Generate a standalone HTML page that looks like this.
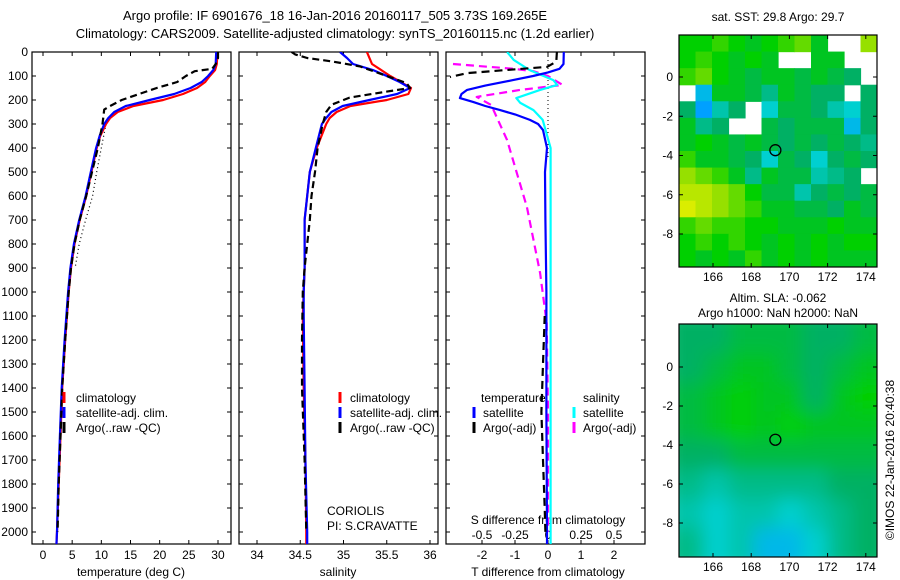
<!DOCTYPE html>
<html><head><meta charset="utf-8">
<style>
html,body{margin:0;padding:0;background:#fff;}
svg{display:block;font-family:"Liberation Sans",sans-serif;}
text{font-size:12px;fill:#000;}
</style></head>
<body>
<svg id="fig" width="900" height="580" viewBox="0 0 900 580" xmlns="http://www.w3.org/2000/svg">
<defs>
<filter id="blur2" x="-10%" y="-10%" width="120%" height="120%"><feGaussianBlur stdDeviation="9"/></filter>
<clipPath id="clipP1"><rect x="32" y="52" width="199" height="492"/></clipPath>
<clipPath id="clipP2"><rect x="239" y="52" width="199" height="492"/></clipPath>
<clipPath id="clipP3"><rect x="446" y="52" width="199" height="492"/></clipPath>
<clipPath id="clipM1"><rect x="679" y="35" width="198" height="232"/></clipPath>
<clipPath id="clipM2"><rect x="679" y="324" width="198" height="233"/></clipPath>
</defs>
<text x="335" y="20" text-anchor="middle" style="font-size:13px">Argo profile: IF 6901676_18 16-Jan-2016 20160117_505 3.73S 169.265E</text>
<text x="335" y="38" text-anchor="middle" style="font-size:13px">Climatology: CARS2009. Satellite-adjusted climatology: synTS_20160115.nc (1.2d earlier)</text>
<text x="778" y="21" text-anchor="middle">sat. SST: 29.8 Argo: 29.7</text>
<text x="778" y="302" text-anchor="middle">Altim. SLA: -0.062</text>
<text x="778" y="317" text-anchor="middle">Argo h1000: NaN h2000: NaN</text>
<text transform="translate(894,460) rotate(-90)" text-anchor="middle">©IMOS 22-Jan-2016 20:40:38</text>
<g id="layer"></g>
</svg>
<script>
// ---------- data ----------
const depthTicks = [0,100,200,300,400,500,600,700,800,900,1000,1100,1200,1300,1400,1500,1600,1700,1800,1900,2000];
const tempTicks = [0,5,10,15,20,25,30];
const salTicks = [34,34.5,35,35.5,36];
const salTickLabels = ["34","34.5","35","35.5","36"];
const tdiffTicks = [-2,-1,0,1,2];
const sdiffTicks = [-0.5,-0.25,0,0.25,0.5];
const sdiffTickLabels = ["-0.5","-0.25","0","0.25","0.5"];

const tClimDepth = [0,50,75,100,125,150,175,200,225,250,275,300,350,400,500,600,700,800,900,1000,1200,1400,1600,1800,2000,2055];
const tClim      = [29.9,29.8,29.5,28.6,27.8,26.4,24,20.6,15.5,12.8,11.5,10.8,9.8,9.2,8.3,7.4,6.3,5.4,4.8,4.4,3.8,3.3,3.0,2.7,2.4,2.3];
const tSat       = [29.7,29.6,29.2,28.3,27.2,25.3,22.5,18.3,14.2,12.2,11.2,10.5,9.7,9.1,8.2,7.3,6.2,5.3,4.7,4.3,3.7,3.2,2.9,2.6,2.4,2.3];
const tArgoDepth = [0,25,50,70,80,100,125,150,175,200,225,240,300,400,500,600,700,800,900,1000,1200,1400,1600,1800,2000];
const tArgo      = [30.0,30.0,29.6,29.0,26.0,24.5,23.0,19.5,16.5,13.5,11.5,10.5,10.2,9.4,8.4,7.4,6.3,5.4,4.8,4.4,3.8,3.3,3.0,2.7,2.5];
const tRawDepth  = [300,400,500,600,700,800,900];
const tRaw       = [10.8,10.0,9.2,8.5,7.3,6.2,5.5];

const sClimDepth = [0,50,100,150,175,200,225,250,275,300,400,500,600,700,800,900,1000,1100,1400,1700,2000,2055];
const sClim      = [35.27,35.33,35.54,35.78,35.75,35.5,35.08,34.92,34.84,34.8,34.69,34.61,34.58,34.55,34.55,34.55,34.54,34.53,34.54,34.56,34.57,34.57];
const sSatDepth  = [0,25,50,75,100,125,150,175,200,225,250,275,300,400,500,600,700,800,900,1000,1100,1400,1700,2000,2055];
const sSat       = [34.96,35.04,35.11,35.34,35.5,35.65,35.77,35.62,35.3,34.99,34.86,34.8,34.75,34.68,34.61,34.58,34.55,34.55,34.55,34.54,34.54,34.55,34.56,34.58,34.58];
const sArgoDepth = [0,10,25,40,60,100,130,150,165,190,220,250,300,400,500,600,700,800,900,1000,1200,1400,1700,2000];
const sArgo      = [34.4,34.44,34.58,34.88,35.19,35.5,35.73,35.77,35.5,35.07,34.86,34.8,34.76,34.7,34.67,34.63,34.61,34.58,34.55,34.53,34.52,34.52,34.55,34.57];

const dTSatDepth = [0,50,70,85,100,117,140,158,175,192,208,225,242,260,283,300,325,400,500,700,1000,1500,2000,2055];
const dTSat      = [0.48,0.47,0.35,0,-0.45,-1.06,-1.9,-2.45,-2.62,-2.67,-2.27,-1.9,-1.45,-1.0,-0.55,-0.3,-0.15,-0.03,-0.09,-0.08,-0.05,-0.05,-0.03,-0.03];
const dSSatDepth = [0,33,75,117,137,158,192,212,242,283,400,700,1000,1500,2000,2055];
const dSSat      = [-0.31,-0.26,-0.14,0.04,0.07,-0.06,-0.24,-0.21,-0.11,-0.04,0.02,0.02,0.02,0.02,0.02,0.02];
const dTArgoDepthA = [0,40,62,75,88,104];
const dTArgoA      = [0.27,0.25,-0.03,-1.25,-2.45,-2.97];
const dTArgoDepthB = [1100,1300,1500,1700,1900,2000];
const dTArgoB      = [-0.1,-0.15,-0.2,-0.15,-0.1,-0.08];
const dSArgoDepth = [50,70,80,100,137,158,187,221,367,646,921,1129,1500,2000];
const dSArgo      = [-0.72,-0.26,-0.11,0.0,0.11,-0.21,-0.54,-0.43,-0.31,-0.16,-0.06,-0.01,0.0,0.0];

const mapLonTicks = [166,168,170,172,174];
const mapLatTicks = [0,-2,-4,-6,-8];
const argoLon = 169.265, argoLat = -3.73;
const N = null;
const sstGrid = [
 [.65,.65,.7,.65,.6,.65,.7,.75,.6,N,N,.8],
 [.65,.7,.65,.6,.65,.6,N,N,.6,.6,N,N],
 [.7,.75,.65,.6,.55,.6,.6,.55,.6,.55,.5,N],
 [N,.3,.6,.6,.55,.45,.6,.55,.5,.5,N,.5],
 [.5,.25,.4,.5,N,.35,.55,.55,.5,.4,.35,.5],
 [.6,.45,.5,N,N,.55,.5,.55,.55,.55,.3,.5],
 [.6,.65,.6,.55,.6,.55,.5,.55,.5,.55,.5,.45],
 [.7,.6,.6,.55,.5,.35,.55,.5,.35,.5,.55,.5],
 [.8,.75,.7,.6,.45,.6,.55,.55,.4,.45,.5,N],
 [.85,.85,.8,.75,.65,.55,.55,.4,.5,.55,.5,.55],
 [.9,.85,.8,.75,.7,.6,.6,.55,.55,.5,.6,.55],
 [.7,.75,.7,.7,.65,.65,.6,.6,.6,.65,.6,.6],
 [.65,.7,.65,.7,.65,.6,.65,.6,.65,.6,.65,.65],
 [.65,.6,.65,.6,.7,.6,.65,.6,.65,.6,.6,.6]
];
const slaGrid = [
 [.5,.5,.55,.55,.55,.5,.5,.55],
 [.5,.55,.6,.6,.55,.5,.55,.6],
 [.55,.6,.65,.6,.6,.5,.6,.65],
 [.55,.6,.65,.6,.65,.6,.6,.6],
 [.5,.5,.55,.55,.55,.55,.55,.55],
 [.45,.4,.45,.45,.45,.45,.5,.5],
 [.4,.35,.4,.4,.35,.4,.45,.5],
 [.45,.35,.4,.3,.3,.35,.45,.5]
];

// ---------- helpers ----------
const NS="http://www.w3.org/2000/svg";
const layer=document.getElementById('layer');
function mk(tag,attrs,parent){const e=document.createElementNS(NS,tag);for(const k in attrs)e.setAttribute(k,attrs[k]);(parent||layer).appendChild(e);return e;}
const yD = d => 52 + d*0.24;
const P1={x0:32,x1:231}, P2={x0:239,x1:438}, P3={x0:446,x1:645};
const xT = t => 43 + t*5.833;
const xS = s => 257 + (s-34)*86.5;
const xDT = t => 548 + t*33;
const xDS = s => 548 + s*132;
const mx = lon => 713 + (lon-166)*19.1;
const my1 = lat => 77 - lat*19.625;
const my2 = lat => 367 - lat*19.5;

function frame(p,name){
  const r=mk('rect',{x:p.x0,y:52,width:p.x1-p.x0,height:492,fill:'none',stroke:'#000','stroke-width':1.2});
  
  
}
function depthTicksOn(p,labels){
  depthTicks.forEach(d=>{
    const y=yD(d);
    mk('line',{x1:p.x0,x2:p.x0+4,y1:y,y2:y,stroke:'#000'});
    mk('line',{x1:p.x1,x2:p.x1-4,y1:y,y2:y,stroke:'#000'});
    if(labels){const t=mk('text',{x:p.x0-4,y:y+4,'text-anchor':'end'});t.textContent=d;
      
      }
  });
}
function xTicks(p,ticks,fx,labels,top){
  ticks.forEach((v,i)=>{
    const x=fx(v);
    mk('line',{x1:x,x2:x,y1:544,y2:540,stroke:'#000'});
    if(top) mk('line',{x1:x,x2:x,y1:52,y2:56,stroke:'#000'});
    const t=mk('text',{x:x,y:559,'text-anchor':'middle'});t.textContent=labels?labels[i]:v;
    
    
  });
}
function line(depths,vals,fx,color,dash,clip,name,w){
  const pts=depths.map((d,i)=>fx(vals[i]).toFixed(1)+','+yD(d).toFixed(1)).join(' ');
  const a={points:pts,fill:'none',stroke:color,'stroke-width':w||2.2,'clip-path':'url(#'+clip+')','stroke-linejoin':'round'};
  if(dash)a['stroke-dasharray']=dash;
  const e=mk('polyline',a);
  
  
}
function label(x,y,s,name,anchor){const t=mk('text',{x:x,y:y,'text-anchor':anchor||'start'});t.textContent=s;
  
  return t;}
function legMark(x,y,color,name){const e=mk('line',{x1:x,x2:x,y1:y-10,y2:y+1,stroke:color,'stroke-width':3});
  
  }

// ---------- panel 1: temperature ----------
frame(P1,'temperature-panel-frame');
depthTicksOn(P1,true);
xTicks(P1,tempTicks,xT,null,true);
label(131,576,'temperature (deg C)','temperature-axis-title','middle');
line(tRawDepth,tRaw,xT,'#000','1,3','clipP1','argo-raw-temperature',1.2);
line(tClimDepth,tClim,xT,'#ff0000',null,'clipP1','climatology-temperature');
line(tClimDepth,tSat,xT,'#0000ff',null,'clipP1','satellite-temperature');
line(tArgoDepth,tArgo,xT,'#000','7,4','clipP1','argo-temperature');
legMark(64,402,'#ff0000','legend-climatology-mark');label(76,402,'climatology','legend-climatology');
legMark(64,417,'#0000ff','legend-satellite-mark');label(76,417,'satellite-adj. clim.','legend-satellite');
legMark(64,432,'#000','legend-argo-mark');label(76,432,'Argo(..raw -QC)','legend-argo');

// ---------- panel 2: salinity ----------
frame(P2,'salinity-panel-frame');
depthTicksOn(P2,false);
xTicks(P2,salTicks,xS,salTickLabels,true);
label(338,576,'salinity','salinity-axis-title','middle');
line(sClimDepth,sClim,xS,'#ff0000',null,'clipP2','climatology-salinity');
line(sSatDepth,sSat,xS,'#0000ff',null,'clipP2','satellite-salinity');
line(sArgoDepth,sArgo,xS,'#000','7,4','clipP2','argo-salinity');
legMark(340,402,'#ff0000','legend-climatology-mark');label(350,402,'climatology','legend-climatology');
legMark(340,417,'#0000ff','legend-satellite-mark');label(350,417,'satellite-adj. clim.','legend-satellite');
legMark(340,432,'#000','legend-argo-mark');label(350,432,'Argo(..raw -QC)','legend-argo');
label(327,515,'CORIOLIS','coriolis-label');
label(327,530,'PI: S.CRAVATTE','pi-label');

// ---------- panel 3: differences ----------
frame(P3,'difference-panel-frame');
depthTicksOn(P3,false);
xTicks(P3,tdiffTicks,xDT,null,true);
sdiffTicks.forEach((v,i)=>{const x=xDS(v);
  const t=mk('text',{x:x,y:539,'text-anchor':'middle'});t.textContent=sdiffTickLabels[i];
  
  });
label(548,524,'S difference from climatology','s-diff-axis-title','middle');
label(548,576,'T difference from climatology','t-diff-axis-title','middle');
const zl=mk('line',{x1:xDT(0),x2:xDT(0),y1:52,y2:yD(450),stroke:'#000','stroke-dasharray':'1,3'});


line(dSArgoDepth,dSArgo,xDS,'#ff00ff','8,5','clipP3','argo-salinity-difference');
line(dSSatDepth,dSSat,xDS,'#00ffff',null,'clipP3','satellite-salinity-difference');
line(dTSatDepth,dTSat,xDT,'#0000ff',null,'clipP3','satellite-temperature-difference');
line(dTArgoDepthA,dTArgoA,xDT,'#000','8,5','clipP3','argo-temperature-difference-upper');
line(dTArgoDepthB,dTArgoB,xDT,'#000','8,5','clipP3','argo-temperature-difference-deep');
label(481,402,'temperature','legend-temperature-heading');
label(583,402,'salinity','legend-salinity-heading');
legMark(474,417,'#0000ff','legend-t-satellite-mark');label(483,417,'satellite','legend-t-satellite');
legMark(474,432,'#000','legend-t-argo-mark');label(483,432,'Argo(-adj)','legend-t-argo');
legMark(574,417,'#00ffff','legend-s-satellite-mark');label(583,417,'satellite','legend-s-satellite');
legMark(574,432,'#ff00ff','legend-s-argo-mark');label(583,432,'Argo(-adj)','legend-s-argo');

// ---------- maps ----------
const stops=[[0,[0,0,192]],[0.25,[0,160,255]],[0.35,[0,208,208]],[0.5,[0,176,100]],[0.65,[0,208,0]],[0.8,[150,224,0]],[0.92,[232,240,0]],[1,[255,128,0]]];
function cmap(v){for(let i=1;i<stops.length;i++){if(v<=stops[i][0]){const a=stops[i-1],b=stops[i],f=(v-a[0])/(b[0]-a[0]);
  return 'rgb('+a[1].map((c,k)=>Math.round(c+(b[1][k]-c)*f)).join(',')+')';}}return 'rgb(255,128,0)';}
function drawMap(grid,x0,y0,w,h,clip,name,blur){
  const g=mk('g',{'clip-path':'url(#'+clip+')'});
  
  
  const inner=blur?mk('g',{filter:'url(#blur2)'},g):g;
  const rows=grid.length, cols=grid[0].length, cw=w/cols, ch=h/rows;
  const pad=blur?15:0;
  grid.forEach((row,r)=>row.forEach((v,c)=>{
    if(v===null)return;
    let x=x0+c*cw, y=y0+r*ch, ww=cw+0.6, hh=ch+0.6;
    if(c===0){x-=pad;ww+=pad;} if(c===cols-1)ww+=pad;
    if(r===0){y-=pad;hh+=pad;} if(r===rows-1)hh+=pad;
    const e=mk('rect',{x:x,y:y,width:ww,height:hh,fill:cmap(v)},inner);
    
    
  }));
}
function mapAxes(x0,y0,w,h,my,name){
  const r=mk('rect',{x:x0,y:y0,width:w,height:h,fill:'none',stroke:'#000','stroke-width':1.2});
  
  
  mapLonTicks.forEach(l=>{const x=mx(l);
    mk('line',{x1:x,x2:x,y1:y0,y2:y0+4,stroke:'#000'});mk('line',{x1:x,x2:x,y1:y0+h,y2:y0+h-4,stroke:'#000'});
    label(x,y0+h+14,String(l),'map-lon-tick-label','middle');});
  mapLatTicks.forEach(l=>{const y=my(l);
    mk('line',{x1:x0,x2:x0+4,y1:y,y2:y,stroke:'#000'});mk('line',{x1:x0+w,x2:x0+w-4,y1:y,y2:y,stroke:'#000'});
    label(x0-6,y+4,String(l),'map-lat-tick-label','end');});
}
drawMap(sstGrid,679,35,198,232,'clipM1','sst-heatmap',false);
mapAxes(679,35,198,232,my1,'sst-map-frame');
const c1=mk('circle',{cx:mx(argoLon),cy:my1(argoLat),r:5.5,fill:'none',stroke:'#000','stroke-width':1.3});



drawMap(slaGrid,679,324,198,233,'clipM2','sla-heatmap',true);
mapAxes(679,324,198,233,my2,'sla-map-frame');
const c2=mk('circle',{cx:mx(argoLon),cy:my2(argoLat),r:5.5,fill:'none',stroke:'#000','stroke-width':1.3});


</script>
</body></html>
